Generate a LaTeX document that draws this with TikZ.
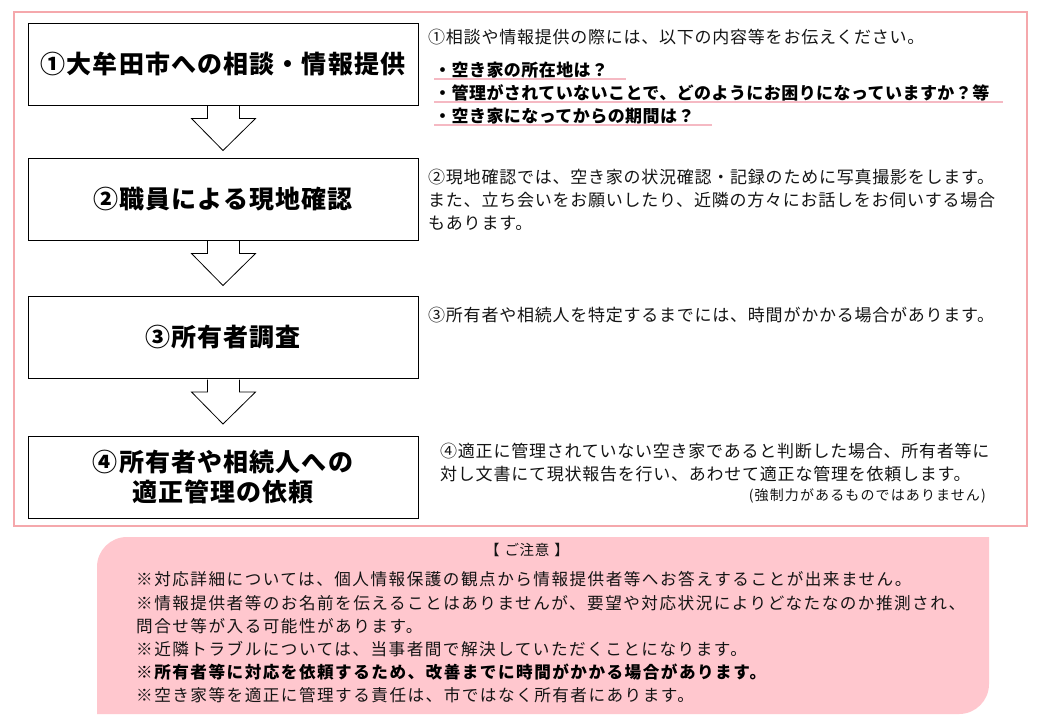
\documentclass[tikz,border=0pt]{standalone}
\usepackage{fontspec}
\setmainfont{Noto Sans CJK JP}
\newfontfamily\jptitle[LetterSpace=4.5]{Noto Sans CJK JP}
\newfontfamily\jpbody[LetterSpace=4.5]{Noto Sans CJK JP}
\newfontfamily\jpbold[LetterSpace=2.6]{Noto Sans CJK JP}
\newfontfamily\jpnote[LetterSpace=9]{Noto Sans CJK JP}
\newfontfamily\jpsmall[LetterSpace=8]{Noto Sans CJK JP}
\usetikzlibrary{calc}
\definecolor{framepink}{RGB}{245,168,172}
\definecolor{notepink}{RGB}{255,199,206}
\definecolor{linepink}{RGB}{245,185,195}
\definecolor{txtgray}{RGB}{20,20,20}
\tikzset{
  stepbox/.style={draw=black, line width=1pt, fill=white, minimum width=390pt,
    minimum height=82pt, inner sep=0pt, align=center,
    font=\jptitle\bfseries\fontsize{25}{30}\selectfont},
  txt/.style={anchor=west, inner sep=0pt, text=txtgray, font=\jpbody\fontsize{17}{20}\selectfont},
  btxt/.style={anchor=west, inner sep=0pt, text=black, font=\jpbold\bfseries\fontsize{17}{20}\selectfont},
  ntxt/.style={anchor=west, inner sep=0pt, text=txtgray, font=\jpnote\fontsize{16.6}{20}\selectfont},
  nbtxt/.style={anchor=west, inner sep=0pt, text=black, font=\jpnote\bfseries\fontsize{16.6}{20}\selectfont},
  uline/.style={draw=linepink, line width=2pt},
  barrow/.style={draw=black, line width=0.8pt, fill=white, line join=miter},
}
\newcommand\flowarrow[2]{%
  \draw[barrow] ($(#1.south)+(-15.5,0.6)$) -- ($(#1.south)+(-15.5,13)$)
    -- ($(#1.south)+(-31.5,13)$) -- ($(#1.south)!45pt!(#2.north)$)
    -- ($(#1.south)+(32.5,13)$) -- ($(#1.south)+(16.5,13)$)
    -- ($(#1.south)+(16.5,0.6)$);}
\begin{document}
\begin{tikzpicture}[x=1pt,y=-1pt]
\useasboundingbox (0,0) rectangle (1040,720);
\fill[white] (0,0) rectangle (1040,720);
% outer frame
\draw[framepink, line width=2pt] (14,12) rectangle (1027,526);
% step boxes
\node[stepbox] (b1) at (223,64) {①大牟田市への相談・情報提供};
\node[stepbox] (b2) at (223,199) {②職員による現地確認};
\node[stepbox] (b3) at (223,337.5) {③所有者調査};
\node[stepbox] (b4) at (223,477.5) {④所有者や相続人への\\適正管理の依頼};
% arrows
\flowarrow{b1}{b2}
\flowarrow{b2}{b3}
\flowarrow{b3}{b4}
% right texts
\node[txt] (p1) at (428,37) {①相談や情報提供の際には、以下の内容等をお伝えください。};
\node[btxt] (u1) at (434,70) {・空き家の所在地は？};
\node[btxt] (u2) at (434,93) {・管理がされていないことで、どのようにお困りになっていますか？等};
\node[btxt] (u3) at (434,116) {・空き家になってからの期間は？};
\draw[uline] ($(u1.west)+(0,9)$) -- ($(u1.west)+(192,9)$);
\draw[uline] ($(u2.west)+(0,9)$) -- ($(u2.west)+(569,9)$);
\draw[uline] ($(u3.west)+(0,9)$) -- ($(u3.west)+(278,9)$);
\node[txt] (p2a) at (428,177) {②現地確認では、空き家の状況確認・記録のために写真撮影をします。};
\node[txt] (p2b) at (428,200) {また、立ち会いをお願いしたり、近隣の方々にお話しをお伺いする場合};
\node[txt] (p2c) at (428,223) {もあります。};
\node[txt] (p3) at (428,315) {③所有者や相続人を特定するまでには、時間がかかる場合があります。};
\node[txt] (p4a) at (440,451) {④適正に管理されていない空き家であると判断した場合、所有者等に};
\node[txt] (p4b) at (440,474) {対し文書にて現状報告を行い、あわせて適正な管理を依頼します。};
\node[anchor=east, inner sep=0pt, text=txtgray, font=\jpsmall\fontsize{14}{16}\selectfont] (p4c) at (986,496) {(強制力があるものではありません)};
% notes box
\fill[notepink] (97,714) -- (97,567) .. controls (97,550.4) and (110.4,537) .. (127,537)
  -- (989,537) -- (989,684) .. controls (989,700.6) and (975.6,714) .. (959,714) -- cycle;
\node[inner sep=0pt, text=txtgray, font=\jpbody\fontsize{14.5}{16}\selectfont] (nt) at (527,550) {【\hspace{5pt}ご注意\hspace{5pt}】};
\node[ntxt] (n1) at (136,579) {※対応詳細については、個人情報保護の観点から情報提供者等へお答えすることが出来ません。};
\node[ntxt] (n2) at (136,603) {※情報提供者等のお名前を伝えることはありませんが、要望や対応状況によりどなたなのか推測され、};
\node[ntxt] (n3) at (136,626) {問合せ等が入る可能性があります。};
\node[ntxt] (n4) at (136,649) {※近隣トラブルについては、当事者間で解決していただくことになります。};
\node[nbtxt] (n5) at (136,672) {※所有者等に対応を依頼するため、改善までに時間がかかる場合があります。};
\node[ntxt] (n6) at (136,695) {※空き家等を適正に管理する責任は、市ではなく所有者にあります。};
\end{tikzpicture}
\end{document}
